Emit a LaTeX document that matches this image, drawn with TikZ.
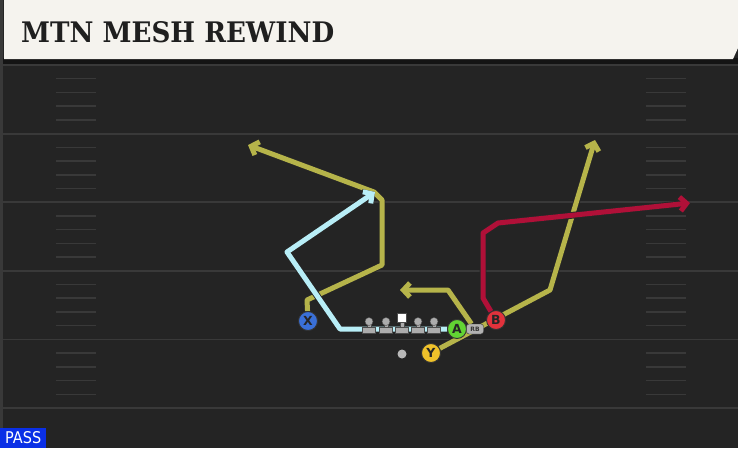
\documentclass[tikz,border=0pt]{standalone}
\usepackage{fontspec}
\setsansfont{DejaVu Sans}
\newfontfamily\titlefont{DejaVu Serif}
\usetikzlibrary{arrows.meta}
\definecolor{field}{HTML}{242424}
\definecolor{yardline}{HTML}{393939}
\definecolor{header}{HTML}{F5F3EE}
\definecolor{routeyellow}{HTML}{B6B44A}
\definecolor{routeblue}{HTML}{B8EEF7}
\definecolor{routered}{HTML}{B01038}
\definecolor{xblue}{HTML}{3A70D8}
\definecolor{agreen}{HTML}{62D433}
\definecolor{bred}{HTML}{E2323C}
\definecolor{yyellow}{HTML}{F0C22A}
\definecolor{passblue}{HTML}{0A2FE6}
\pgfdeclarelayer{field}
\pgfdeclarelayer{routes}
\pgfsetlayers{field,routes,main}
\begin{document}
\begin{tikzpicture}[x=1pt,y=-1pt,
  player/.style={circle,draw=black!80,line width=0.9pt,minimum size=19pt,inner sep=0pt,
    font=\sffamily\bfseries\fontsize{12.5}{12.5}\selectfont,text=black!85},
  route/.style={line width=5pt,line join=round,preaction={draw=black!85,line width=6.8pt}},
  routetip/.style={-{Straight Barb[length=6.5pt,width=14pt]}},
  hash/.style={yardline,line width=1.5pt},
  lineman/.style={fill=gray!65,draw=black!70,line width=0.4pt}]
  \useasboundingbox (0,0) rectangle (738,448);
  %Players
  \node[player,fill=xblue] (X) at (308,321) {X};
  \node[player,fill=agreen] (A) at (457,329) {A};
  \node[player,fill=bred] (B) at (496,320) {B};
  \node[player,fill=yyellow] (Y) at (431,353) {Y};
  \node[draw=black!80,fill=gray!60,rounded corners=2.5pt,minimum width=17pt,minimum height=10pt,
    inner sep=0pt,font=\sffamily\bfseries\fontsize{6}{6}\selectfont,text=black!80] (RB) at (475,329) {RB};
  \node[circle,fill=gray!55,minimum size=9pt,inner sep=0pt] (QB) at (402,354) {};
  %Offensive line
  \foreach \x in {369,386,418,434}{
    \path[lineman] (\x-1.8,322) rectangle (\x+1.8,330);
    \path[lineman] (\x-6.5,327.5) rectangle (\x+6.5,333.5);
    \path[lineman] (\x,321.5) circle (4);
  }
  \path[lineman] (400.2,320) rectangle (403.8,330);
  \path[lineman] (395.5,327.5) rectangle (408.5,333.5);
  \path[fill=white,draw=black!70,line width=0.4pt] (397.5,313) rectangle (406.5,322);

  \begin{pgfonlayer}{field}
    \fill[field] (0,0) rectangle (738,448);
    \fill[gray!45!black] (0,0) rectangle (3,448);
    %Yard lines
    \foreach \k in {0,...,5}
      \draw[yardline,line width=1.8pt] (3,65+68.6*\k) -- (738,65+68.6*\k);
    %Hash marks
    \foreach \k in {0,...,4}
      \foreach \j in {1,...,4}{
        \draw[hash] (56,65+68.6*\k+13.72*\j) -- (96,65+68.6*\k+13.72*\j);
        \draw[hash] (646,65+68.6*\k+13.72*\j) -- (686,65+68.6*\k+13.72*\j);
      }
    %Header
    \fill[black!92] (3,58) rectangle (738,63.5);
    \fill[header] (4,0) -- (738,0) -- (738,48) -- (733,59) -- (4,59) -- cycle;
    \node[anchor=west,inner sep=0pt,text=black!88] (title) at (21,32.5)
      {\resizebox{313pt}{21pt}{\titlefont\bfseries MTN MESH REWIND}};
  \end{pgfonlayer}

  %Pass tag
  \node[anchor=south west,fill=passblue,minimum width=46pt,minimum height=20pt,inner sep=0pt,
    text=white] (pass) at (0,448) {\resizebox{36pt}{12pt}{\sffamily PASS}};

  \begin{pgfonlayer}{routes}
    \coordinate (Xend) at (248,145);
    \coordinate (Aend) at (375,192);
    \coordinate (RBend) at (400,290);
    \coordinate (Yend) at (595,140);
    \coordinate (Bend) at (690,203);
    %X route
    \draw[route,routeyellow,routetip] (X) -- (307,300) -- (382,265) -- (382,200) -- (374,192) -- (Xend);
    %A route
    \draw[route,routeblue,routetip] (A) -- (340,329) -- (287,252) -- (Aend);
    %RB route
    \draw[route,routeyellow,routetip] (RB) -- (448,290) -- (RBend);
    %Y route
    \draw[route,routeyellow,routetip] (Y) -- (550,290) -- (Yend);
    %B route
    \draw[route,routered,routetip] (B) -- (483,298) -- (483,233) -- (498,223) -- (Bend);
  \end{pgfonlayer}
\end{tikzpicture}
\end{document}
